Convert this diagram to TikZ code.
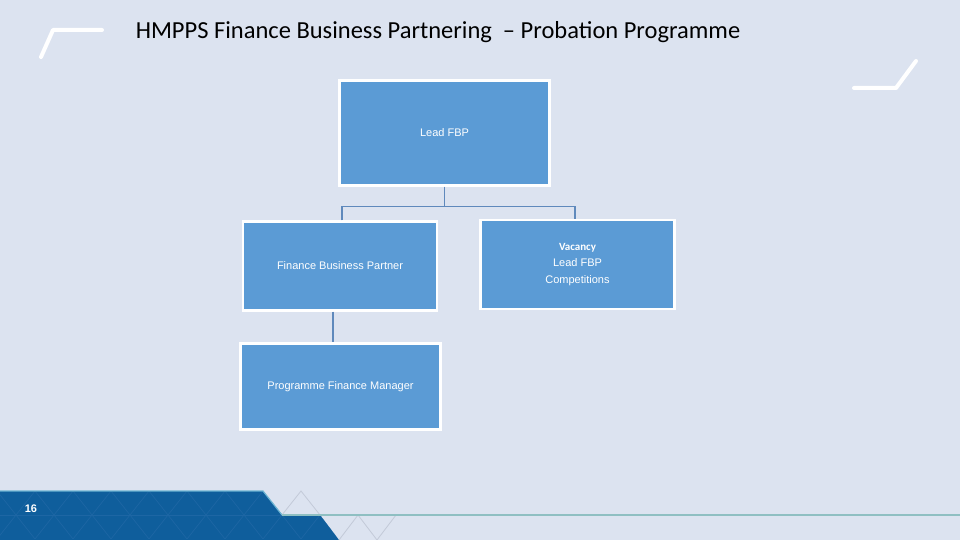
\documentclass[tikz,border=0pt]{standalone}
\usepackage{fontspec}
\setmainfont{Liberation Sans}
\newfontfamily\calibri{Carlito}
\definecolor{bgc}{HTML}{DCE3F0}
\definecolor{boxc}{HTML}{5B9BD5}
\definecolor{connc}{HTML}{5F89BC}
\definecolor{bandc}{HTML}{0F5E9C}
\definecolor{bandline}{HTML}{1D66A4}
\definecolor{edgec}{HTML}{6CB4D2}
\definecolor{tealc}{HTML}{8FBFC2}
\definecolor{gridc}{HTML}{C3CAD8}
\begin{document}
\begin{tikzpicture}[x=1pt,y=-1pt,
  orgbox/.style={draw=white,line width=2.2pt,fill=boxc,text=white,align=center,
    font=\fontsize{11}{16.5}\selectfont,inner sep=0pt},
  conn/.style={draw=connc,line width=1.1pt},
  deco/.style={draw=white,line width=4pt,line cap=round,line join=round}]
\useasboundingbox (0,0) rectangle (960,540);
\fill[bgc] (0,0) rectangle (960,540);
% decorative strokes
\draw[deco] (41,57) -- (53,30) -- (102,30);
\draw[deco] (854,88) -- (896,88) -- (916,61);
% title
\node (title) at (438,32) {\calibri\fontsize{24.5}{28}\selectfont HMPPS Finance Business Partnering\ \ – Probation Programme};
% bottom band
\fill[bandc] (0,491) -- (263,491) -- (282,515) -- (320,515) -- (339,540) -- (0,540) -- cycle;
\begin{scope}
\clip (0,491) -- (263,491) -- (282,515) -- (320,515) -- (339,540) -- (0,540) -- cycle;
\foreach \k in {-10,...,10}{
  \draw[bandline,line width=0.7pt] ({301+38*\k},491) -- ({301+38*\k+38},539);
  \draw[bandline,line width=0.7pt] ({301+38*\k},491) -- ({301+38*\k-38},539);
}
\draw[bandline,line width=0.7pt] (0,515) -- (320,515);
\end{scope}
\draw[edgec,line width=1.2pt] (0,491) -- (263,491) -- (282,515);
\draw[gridc,line width=0.8pt] (282,515) -- (301,491) -- (320,515);
\draw[gridc,line width=0.8pt] (358,515) -- (377,540);
\draw[gridc,line width=0.8pt] (377,540) -- (396,515);
\draw[gridc,line width=0.8pt] (339,540) -- (358,515);
\draw[tealc,line width=2pt] (282,515) -- (960,515);
\node[text=white,font=\bfseries\fontsize{11}{12}\selectfont] (pg) at (31,509) {16};
% boxes
\node[orgbox,minimum width=210pt,minimum height=105pt] (lead) at (444.5,133) {Lead FBP};
\node[orgbox,minimum width=194pt,minimum height=89pt] (fbp) at (340,266) {Finance Business Partner};
\node[orgbox,minimum width=194pt,minimum height=89pt] (vac) at (577.5,264.5)
  {{\calibri\bfseries\fontsize{11}{16.5}\selectfont Vacancy}\\Lead FBP\\Competitions};
\node[orgbox,minimum width=200pt,minimum height=86pt] (pfm) at (340.5,386.5) {Programme Finance Manager};
% connectors
\coordinate (bus) at ([yshift=-20pt]lead.south);
\draw[conn] (lead.south) -- (bus);
\draw[conn] ([xshift=2pt]fbp.north) |- (bus) -| ([xshift=-2.5pt]vac.north);
\draw[conn] ([xshift=-7pt]fbp.south) -- ([xshift=-7pt]fbp.south |- pfm.north);
\end{tikzpicture}
\end{document}
